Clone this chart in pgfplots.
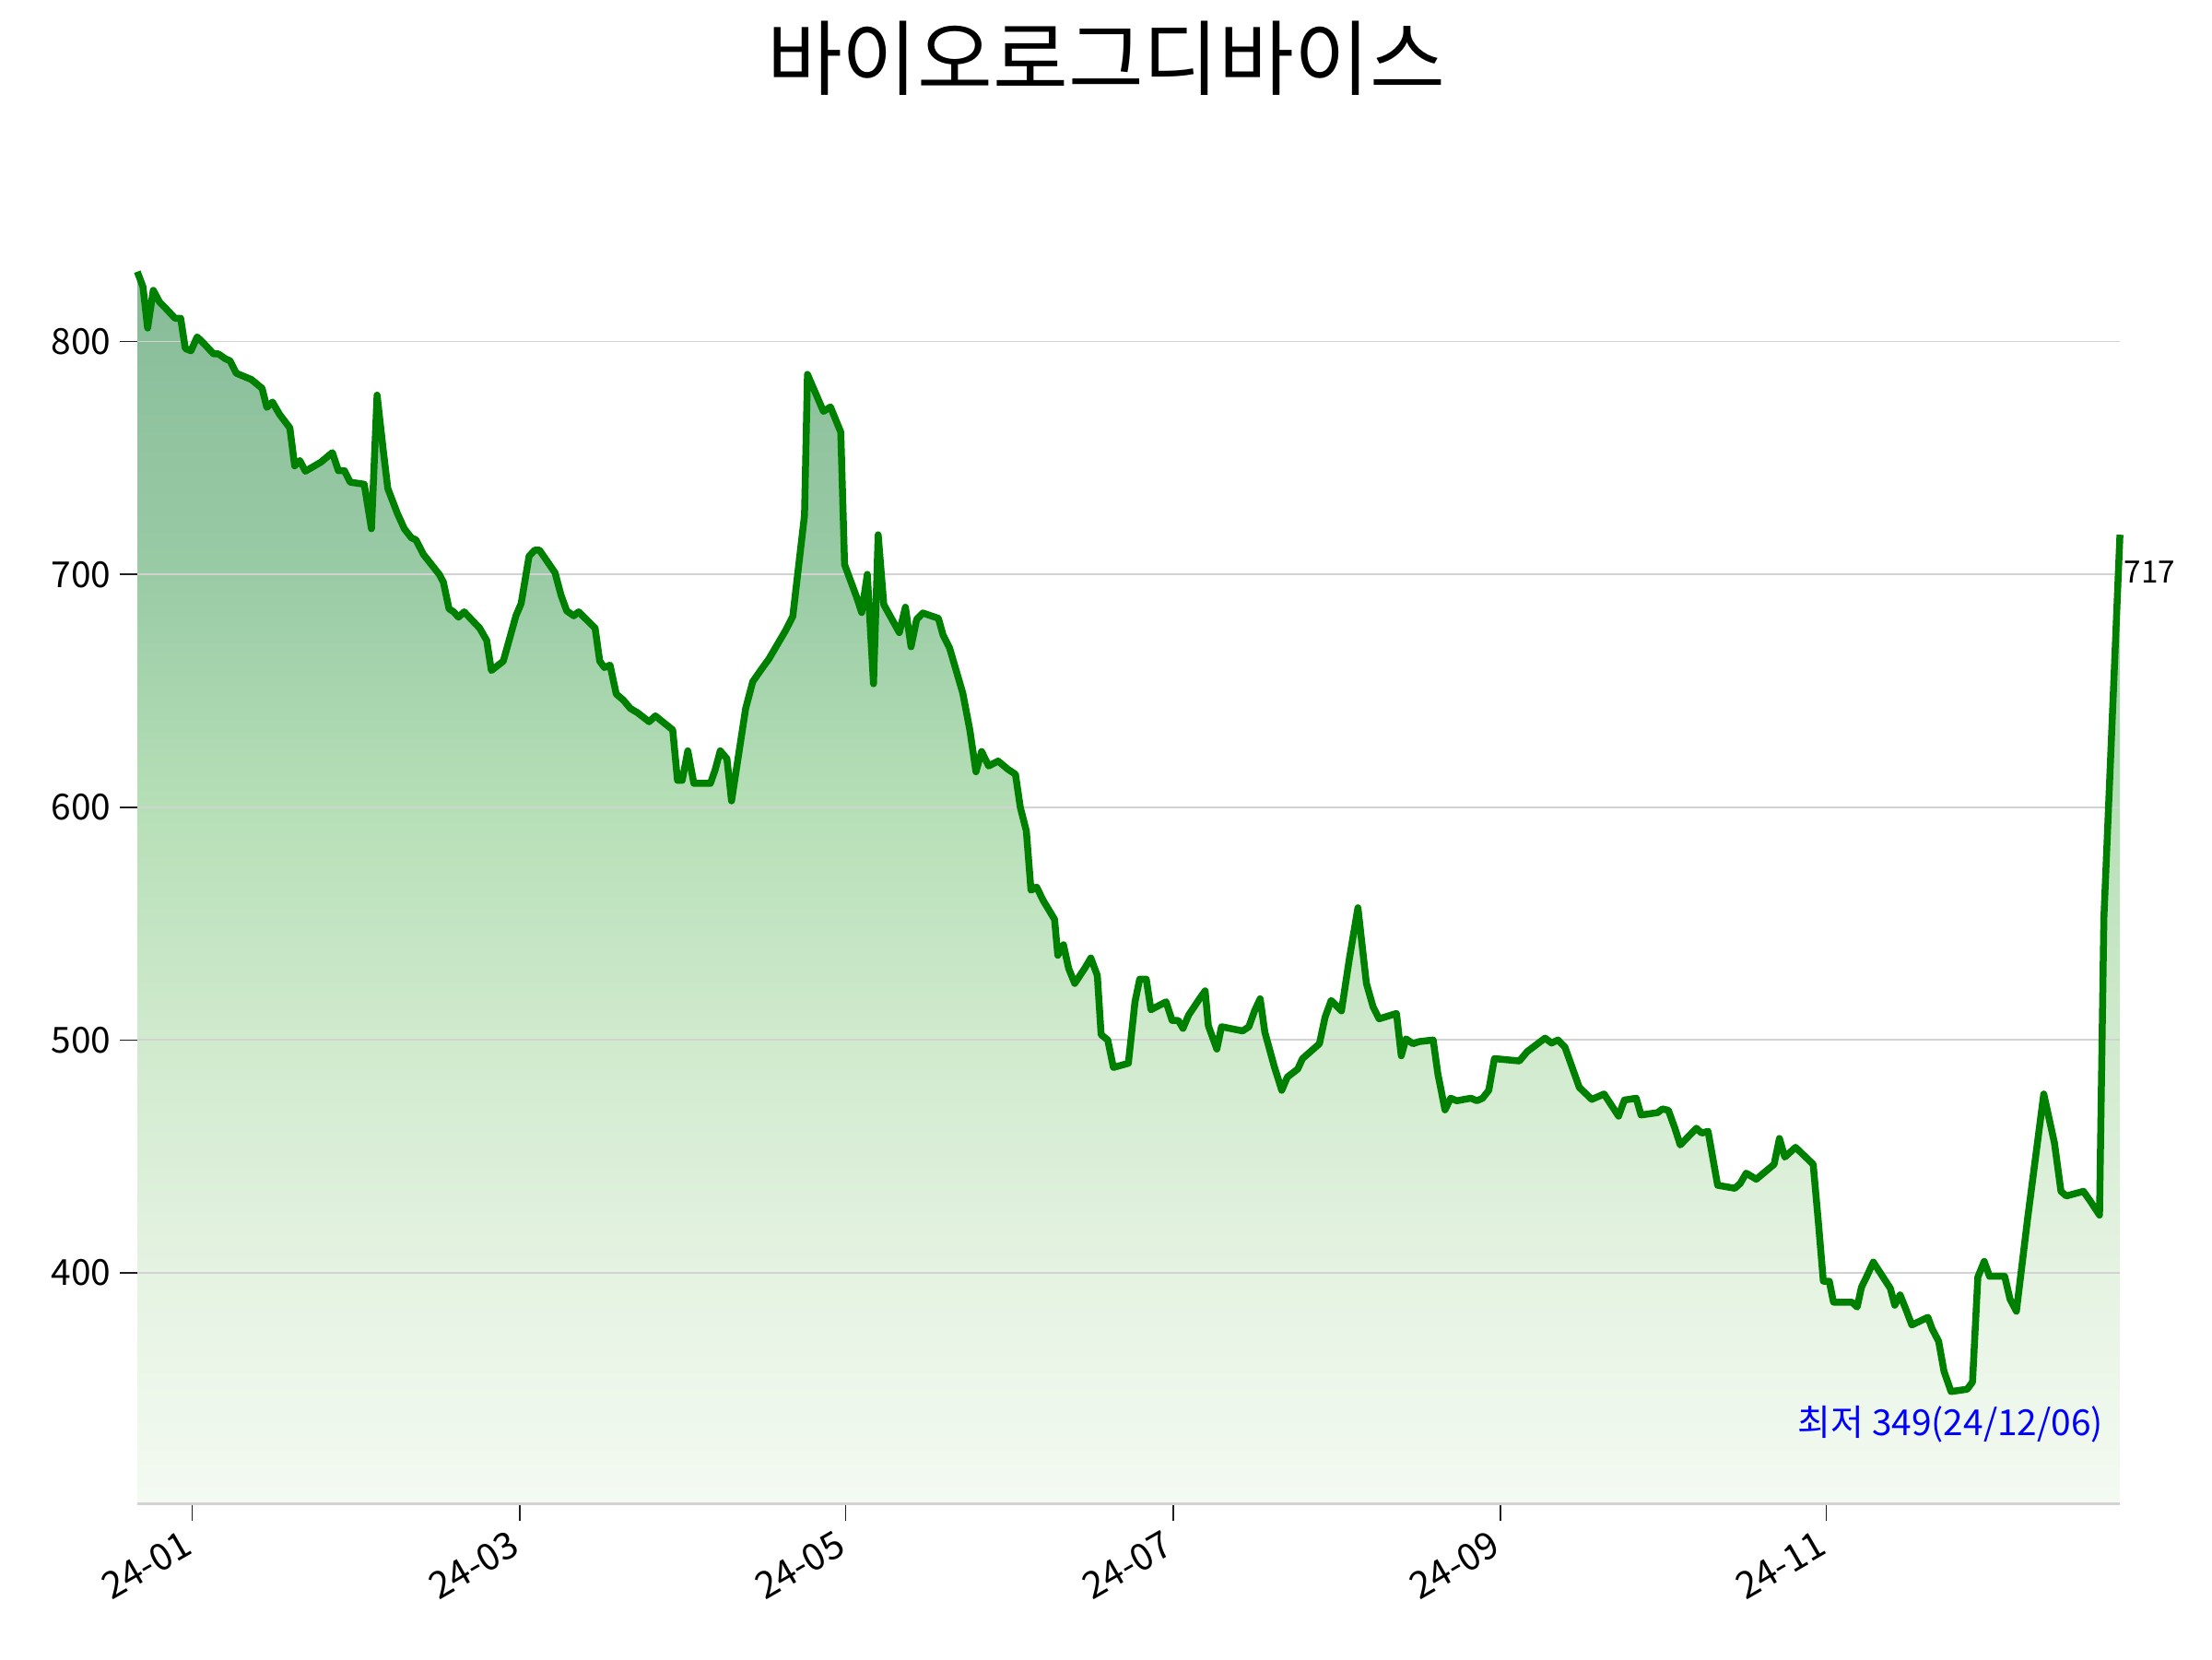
\documentclass[border=0pt]{standalone}
\usepackage{fontspec}
\setmainfont{Noto Sans CJK KR}
\usepackage{pgfplots}
\pgfplotsset{compat=1.18}
\usepackage{pgfplotstable}

\definecolor{gA}{RGB}{244,250,242}
\definecolor{gB}{RGB}{229,243,226}
\definecolor{gC}{RGB}{208,234,205}
\definecolor{gD}{RGB}{182,223,183}
\definecolor{gE}{RGB}{153,203,165}
\definecolor{gF}{RGB}{135,187,152}
\definecolor{linegreen}{RGB}{0,128,0}
\definecolor{gridgray}{RGB}{210,210,210}
\pgfdeclareverticalshading{greenfade}{100bp}{color(0bp)=(gA); color(25bp)=(gA); color(34.36bp)=(gB); color(43.81bp)=(gC); color(53.26bp)=(gD); color(62.71bp)=(gE); color(75bp)=(gF); color(100bp)=(gF)}

\pgfplotstableread{
x y
97 830
101 823.5
104.3 805.8
108.3 822
112.7 817
116 815
123.7 810
127.7 810
131 797
135 796
139.4 802
144.4 799
151 794.7
154.4 794.7
159.4 792.6
162.7 791.7
167.1 786.4
177.8 783.7
185.4 779.9
188.8 771.7
192.8 774
197.8 768.7
205.1 762.9
208.5 746.6
212.1 748.9
216.1 744.3
227.1 748.2
235.2 752.3
239.5 744.5
243.8 744.5
247.8 739.6
257.8 738.7
262.9 719.6
266.9 777
271.2 753.7
274.5 736.9
281.2 726.3
286.2 719.6
291.2 715.7
294.5 714.8
299.6 708.7
311.2 699.8
313.9 696.6
317.9 685.2
321.2 683.9
324.6 681.6
328.6 683.9
339.6 676.9
344.6 671.6
347.9 658.7
356.3 662.7
359.6 669.8
365.3 682.2
369 687.5
374.6 707.8
378.6 710.4
382 710.4
393 700.7
397.3 691
401.3 684.3
406.3 682.2
409.7 683.9
421.4 676.9
424.7 662.7
428 660
432 661
436.4 648.6
441.4 646
446.4 642.4
451.4 640.6
459.7 636.7
464.1 639.2
476.4 633.2
479.8 611.5
483.1 611.5
487.1 624.2
491.4 610.2
503.1 610.2
506.4 615.9
510.1 624.2
514.8 620.8
518.1 602.7
522.1 618.6
528.1 642.4
533.1 653.9
539.8 659.7
544.5 663.6
556.5 676
561.5 682
569.8 725.4
571.9 785.9
583.2 770
588.2 771.9
595.5 761.1
598.2 704.2
607 689.8
610.3 683.6
614.3 700
618.7 653
622 717
626 687
637 675
641.3 685.9
645.3 668.9
649.3 680.7
653.7 683.4
664.7 681.1
668 673.9
672.7 668.2
682 648.9
687 633
691.3 615.2
695.3 623.9
700.3 617.7
707 619.8
713.7 616.4
719.3 614.1
722.7 600
727 589.8
730.3 564.3
734.3 565.7
738.7 560.2
747 551.8
749.3 536.4
753.3 540.9
757 530.7
761.3 524.3
768.7 531.1
772.7 535.2
777.3 527.7
780 502.3
784.7 500
788.7 488.2
799.3 490
804 516.4
807.3 526.1
812 526.1
815.3 513
826 516.4
830.3 508.4
834.7 508.4
838 505
842 510.7
850.3 518.2
853.7 521.1
856 506.1
862 496.1
865.3 505.7
880.3 503.9
884.7 505.7
888.7 512.5
892.7 517.7
896 503.4
902.7 488.6
908 478.4
912 484.1
919.3 487.5
922.7 492
934.7 498.4
938.7 509.8
943 517
950.3 512.5
956 535.2
962 556.8
964.7 542
968 524.3
972.7 514.3
977 509.1
989.3 511.4
992.7 493.2
996 500.5
1001 498.4
1005.3 499.3
1015.3 500
1018.7 485.2
1023.7 470
1027.7 475
1032 473.9
1042 475
1046.3 473.9
1050.3 475
1054.7 478.4
1058.7 492
1076.4 491
1082.1 495.1
1094.6 500.8
1099.2 498.7
1103.7 500
1108.7 496.9
1118.9 479.6
1127.7 474.5
1136.4 476.8
1146.7 467.3
1150.8 474.2
1159.2 475
1162.6 467.8
1174.4 468.8
1177.8 470.4
1182 469.8
1186.6 462.1
1190.4 454.9
1201.8 462.1
1205.6 460
1210.1 460.8
1216.9 437.6
1229.1 436.3
1232.9 438.4
1237.1 442.8
1244.3 440.2
1256.9 446.6
1260.7 457.7
1264.5 449.7
1272.1 453.9
1284.6 446.6
1288.4 420.9
1291.8 396.4
1296 396.4
1299 387.4
1312 387.4
1315.8 385.3
1318.8 393.8
1322.6 398.5
1327.2 404.6
1339.3 393.3
1342.4 386.1
1346.2 390.5
1350 384.8
1354.5 377.6
1365.9 380.9
1369 375.8
1373.5 370.6
1377.3 357.7
1382.3 349
1393.7 350
1397.5 353.1
1401.3 398.2
1405.8 404.9
1409.6 398.5
1420.3 398.5
1424.1 388.7
1428.6 383.5
1436.6 423.5
1448 476.8
1455.6 455.7
1460.2 435
1464 433
1476.1 435
1481.1 430.7
1487.5 424.8
1490.6 552.3
1502 717
}\pricedata

\begin{document}
\begin{tikzpicture}
\path (0,0) rectangle (864pt,648pt);
\node[anchor=base, font=\fontsize{32}{38}\selectfont] at (432pt,613.4pt) {바이오로그디바이스};
\begin{axis}[
  at={(53.64pt,60.66pt)}, anchor=south west,
  scale only axis,
  width=774.4pt, height=508.5pt,
  xmin=97, xmax=1502, ymin=300.8, ymax=860,
  clip=false,
  set layers,
  axis lines*=left,
  x axis line style={-, draw=gridgray, line width=1.1pt},
  y axis line style={draw=none},
  tick align=outside,
  major tick length=6.8pt,
  tick style={black!88, line width=0.55pt},
  xtick={136,368,599,831,1063,1294},
  xticklabels={\mbox{24-01},\mbox{24-03},\mbox{24-05},\mbox{24-07},\mbox{24-09},\mbox{24-11}},
  ytick={400,500,600,700,800},
  ymajorgrids,
  grid style={gridgray, line width=0.65pt},
  /pgf/number format/assume math mode=true,
  yticklabel style={font=\fontsize{14}{16}\selectfont},
  xticklabel style={font=\fontsize{14.5}{16}\selectfont, rotate=30, anchor=north east, xshift=-2pt, yshift=3pt},
]
\addplot[draw=none, shading=greenfade, on layer=axis background] table[x=x,y=y] {\pricedata} -- (rel axis cs:1,0) -- (rel axis cs:0,0) -- cycle;
\addplot[linegreen, line width=2.7pt, line join=round, mark=none] table[x=x,y=y] {\pricedata};
\node[anchor=west, inner sep=0pt, xshift=1.5pt, font=\fontsize{12}{14}\selectfont] at (axis cs:1502,701) {717};
\node[anchor=base, inner sep=0pt, text=blue, font=\fontsize{14}{16}\selectfont] at (axis cs:1382,330) {최저 349(24/12/06)};
\end{axis}
\end{tikzpicture}
\end{document}
